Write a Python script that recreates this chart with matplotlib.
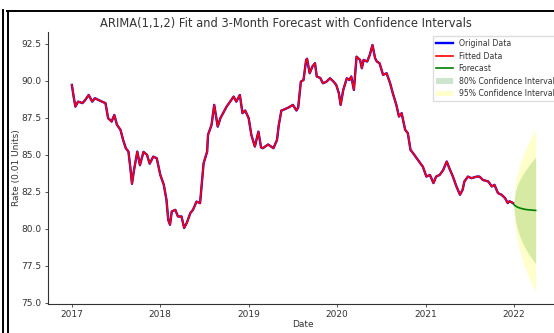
import matplotlib
matplotlib.use("Agg")
import matplotlib.pyplot as plt
import matplotlib.dates as mdates
from matplotlib.lines import Line2D
import numpy as np
import pandas as pd

# observed series (decimal year, rate)
year_frac = [
    2017.00, 2017.02, 2017.04, 2017.07, 2017.12, 2017.15, 2017.19, 2017.23, 2017.26, 2017.34,
    2017.38, 2017.41, 2017.45, 2017.48, 2017.51, 2017.55, 2017.58, 2017.61, 2017.64, 2017.66,
    2017.68, 2017.70, 2017.74, 2017.77, 2017.81, 2017.85, 2017.88, 2017.92, 2017.96, 2018.00,
    2018.04, 2018.07, 2018.09, 2018.11, 2018.13, 2018.17, 2018.20, 2018.24, 2018.27, 2018.30,
    2018.34, 2018.37, 2018.41, 2018.45, 2018.47, 2018.49, 2018.53, 2018.54, 2018.58, 2018.61,
    2018.65, 2018.68, 2018.71, 2018.75, 2018.79, 2018.83, 2018.86, 2018.90, 2018.93, 2018.96,
    2019.00, 2019.03, 2019.07, 2019.11, 2019.14, 2019.16, 2019.22, 2019.28, 2019.32, 2019.34,
    2019.37, 2019.39, 2019.45, 2019.50, 2019.54, 2019.56, 2019.59, 2019.62, 2019.65, 2019.66,
    2019.69, 2019.72, 2019.75, 2019.77, 2019.81, 2019.84, 2019.88, 2019.92, 2019.96, 2019.99,
    2020.02, 2020.04, 2020.07, 2020.11, 2020.14, 2020.16, 2020.19, 2020.22, 2020.26, 2020.28,
    2020.30, 2020.34, 2020.37, 2020.40, 2020.43, 2020.45, 2020.48, 2020.52, 2020.56, 2020.60,
    2020.63, 2020.67, 2020.70, 2020.73, 2020.77, 2020.80, 2020.83, 2020.86, 2020.90, 2020.94,
    2020.97, 2021.01, 2021.05, 2021.09, 2021.12, 2021.16, 2021.20, 2021.24, 2021.27, 2021.31,
    2021.35, 2021.39, 2021.42, 2021.44, 2021.48, 2021.52, 2021.58, 2021.61, 2021.65, 2021.71,
    2021.75, 2021.78, 2021.82, 2021.86, 2021.90, 2021.93, 2021.95, 2021.99,
]
rate = [
    89.73, 88.94, 88.26, 88.60, 88.50, 88.70, 89.05, 88.60, 88.83, 88.60,
    88.50, 87.48, 87.25, 87.70, 87.03, 86.69, 86.00, 85.45, 85.22, 84.20,
    83.04, 83.87, 85.22, 84.30, 85.20, 85.00, 84.40, 84.88, 84.77, 83.65,
    82.97, 81.96, 80.60, 80.27, 81.17, 81.28, 80.83, 80.83, 80.05, 80.40,
    81.06, 81.28, 81.84, 81.73, 83.09, 84.43, 85.22, 86.35, 87.03, 88.38,
    86.91, 87.48, 87.82, 88.26, 88.60, 88.94, 88.60, 89.05, 87.82, 88.00,
    87.48, 86.35, 85.56, 86.57, 85.50, 85.45, 85.70, 85.45, 86.00, 87.00,
    88.00, 88.04, 88.20, 88.38, 88.00, 88.20, 89.95, 90.06, 91.42, 91.50,
    90.52, 90.97, 91.20, 90.30, 90.20, 89.84, 89.95, 90.18, 89.95, 89.73,
    89.17, 88.38, 89.40, 90.18, 90.06, 90.30, 89.39, 91.64, 91.42, 90.86,
    91.42, 91.31, 91.76, 92.43, 91.53, 91.31, 91.20, 90.41, 90.52, 89.84,
    89.17, 88.38, 87.59, 87.82, 86.69, 86.47, 85.34, 85.11, 84.77, 84.44,
    84.20, 83.53, 83.64, 83.09, 83.53, 83.64, 83.97, 84.55, 84.09, 83.53,
    82.86, 82.30, 82.64, 83.20, 83.53, 83.42, 83.53, 83.53, 83.30, 83.20,
    82.86, 82.97, 82.41, 82.30, 82.07, 81.74, 81.86, 81.74,
]

# 3-month forecast, weekly steps
fc_dates = pd.date_range("2021-12-31", periods=14, freq="7D")
fc_mean = [81.65, 81.55, 81.48, 81.43, 81.39, 81.36, 81.33, 81.31, 81.29, 81.28, 81.27, 81.26, 81.25, 81.24]
ci80_lo = [81.65, 80.55, 80.07, 79.70, 79.39, 79.13, 78.88, 78.67, 78.46, 78.28, 78.11, 77.94, 77.79, 77.64]
ci80_hi = [81.65, 82.55, 82.89, 83.16, 83.39, 83.59, 83.78, 83.95, 84.12, 84.28, 84.43, 84.58, 84.71, 84.84]
ci95_lo = [81.65, 80.02, 79.32, 78.79, 78.34, 77.95, 77.59, 77.28, 76.98, 76.71, 76.45, 76.20, 75.97, 75.74]
ci95_hi = [81.65, 83.08, 83.64, 84.07, 84.44, 84.77, 85.07, 85.34, 85.60, 85.85, 86.09, 86.32, 86.53, 86.74]


def to_date(y):
    y = np.asarray(y)
    return pd.Timestamp("2017-01-01") + pd.to_timedelta((y - 2017) * 365.25, unit="D")


dates = to_date(year_frac)

W, H = 554, 333
fig = plt.figure(figsize=(W / 100, H / 100), dpi=100)
# axes box in pixels: x 48..559, y 32..304 (right edge runs past the canvas)
ax = fig.add_axes([48 / W, (H - 304) / H, 511 / W, 272 / H])

ax.plot(dates, rate, color="blue", lw=1.7, label="Original Data")
ax.plot(dates, rate, color="red", lw=1.2, label="Fitted Data")
ax.plot(fc_dates, fc_mean, color="green", lw=1.2, label="Forecast")
ax.fill_between(fc_dates, ci80_lo, ci80_hi, color="green", alpha=0.2, lw=0, label="80% Confidence Interval")
ax.fill_between(fc_dates, ci95_lo, ci95_hi, color="yellow", alpha=0.2, lw=0, label="95% Confidence Interval")

ax.set_xlim(to_date(2016.73), to_date(2022.51))
ax.set_ylim(74.91, 93.31)
ax.set_yticks(np.arange(75, 93, 2.5))
ax.xaxis.set_major_locator(mdates.YearLocator())
ax.xaxis.set_major_formatter(mdates.DateFormatter("%Y"))

ax.spines["top"].set_visible(False)
for s in ("left", "bottom"):
    ax.spines[s].set_linewidth(0.8)
    ax.spines[s].set_color("#333333")
ax.tick_params(labelsize=6.5, length=2.5, width=0.6, colors="#333333", pad=2)

ax.set_xlabel("Date", fontsize=6.5, color="#333333")
ax.set_ylabel("Rate (0.01 Units)", fontsize=6.5, color="#333333")
ax.xaxis.set_label_coords(0.499, -0.058)
ax.yaxis.set_label_coords(-0.052, 0.5)

fig.text(286 / W, 1 - 23 / H, "ARIMA(1,1,2) Fit and 3-Month Forecast with Confidence Intervals",
         ha="center", va="center", fontsize=8.3, color="#333333")

ax.legend(loc="upper left", bbox_to_anchor=(433 / W, 1 - 36 / H), bbox_transform=fig.transFigure,
          fontsize=5.6, frameon=True, fancybox=False, edgecolor="#dddddd", framealpha=1,
          handlelength=2.2, handletextpad=0.7, labelspacing=0.45, borderaxespad=0,
          labelcolor="#333333")

# frame lines around the figure
for xs, ys in [([3.5, 3.5], [10, H]), ([8, 8], [11, H]), ([7, W], [11, 11])]:
    fig.add_artist(Line2D(np.array(xs) / W, 1 - np.array(ys) / H, transform=fig.transFigure,
                          color="black", lw=1.4))

fig.savefig("out.png", dpi=100)
